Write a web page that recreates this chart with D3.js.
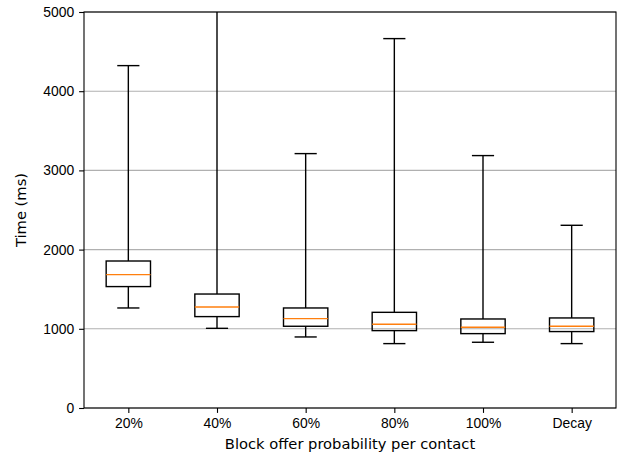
<!DOCTYPE html>
<html>
<head>
<meta charset="utf-8">
<script src="https://cdn.jsdelivr.net/npm/d3@7"></script>
<style>
	body { margin: 0; background: #fff; }
	svg { display: block; font-family: "DejaVu Sans", sans-serif; }
	.tick text { font-size: 13.9px; fill: #000; }
	.label { font-size: 14.7px; fill: #000; }
</style>
</head>
<body>
<svg id="chart" width="620" height="455"></svg>
<script>
// values (ms)
const categories = ['20%', '40%', '60%', '80%', '100%', 'Decay'];
const whiskerLow = [1263, 1006, 897, 813, 830, 813];
const q1 = [1533, 1154, 1032, 977, 939, 965];
const medians = [1684, 1275, 1129, 1057, 1019, 1032];
const q3 = [1856, 1439, 1263, 1208, 1124, 1137];
const whiskerHigh = [4323, 6200, 3212, 4664, 3187, 2307];
const yTicks = [0, 1000, 2000, 3000, 4000, 5000];

const margin = { top: 12, right: 4, bottom: 47, left: 84 };
const width = 620 - margin.left - margin.right;
const height = 455 - margin.top - margin.bottom;

const boxes = categories.map((c, i) => ({
	cat: c, pos: i + 1,
	lo: whiskerLow[i], q1: q1[i], med: medians[i], q3: q3[i], hi: whiskerHigh[i]
}));

const svg = d3.select('#chart');
const g = svg.append('g').attr('transform', `translate(${margin.left},${margin.top})`);

const x = d3.scaleLinear().domain([0.5, 6.5]).range([0, width]);
const y = d3.scaleLinear().domain([0, 5000]).range([height, 0]);

const boxW = x(1.25) - x(1);   // half width of box
const capW = boxW / 2;

// grid
g.append('g')
	.selectAll('line')
	.data(yTicks)
	.enter()
	.append('line')
		.attr('x1', 0).attr('x2', width)
		.attr('y1', d => y(d)).attr('y2', d => y(d))
		.attr('stroke', '#b0b0b0')
		.attr('stroke-width', 1.1);

svg.append('clipPath').attr('id', 'plot-clip')
	.append('rect').attr('width', width).attr('height', height);

const marks = g.append('g').attr('clip-path', 'url(#plot-clip)');
const bg = marks.selectAll('g.box').data(boxes).enter().append('g').classed('box', true);

const stroke = '#000';
const sw = 1.4;

// whiskers
bg.append('line')
	.attr('x1', d => x(d.pos)).attr('x2', d => x(d.pos))
	.attr('y1', d => y(d.q3)).attr('y2', d => y(d.hi))
	.attr('stroke', stroke).attr('stroke-width', sw);
bg.append('line')
	.attr('x1', d => x(d.pos)).attr('x2', d => x(d.pos))
	.attr('y1', d => y(d.q1)).attr('y2', d => y(d.lo))
	.attr('stroke', stroke).attr('stroke-width', sw);
// caps
bg.append('line')
	.attr('x1', d => x(d.pos) - capW).attr('x2', d => x(d.pos) + capW)
	.attr('y1', d => y(d.hi)).attr('y2', d => y(d.hi))
	.attr('stroke', stroke).attr('stroke-width', sw);
bg.append('line')
	.attr('x1', d => x(d.pos) - capW).attr('x2', d => x(d.pos) + capW)
	.attr('y1', d => y(d.lo)).attr('y2', d => y(d.lo))
	.attr('stroke', stroke).attr('stroke-width', sw);
// box
bg.append('rect')
	.attr('x', d => x(d.pos) - boxW)
	.attr('width', 2 * boxW)
	.attr('y', d => y(d.q3))
	.attr('height', d => y(d.q1) - y(d.q3))
	.attr('fill', 'none')
	.attr('stroke', stroke).attr('stroke-width', sw);
// median
bg.append('line')
	.attr('x1', d => x(d.pos) - boxW).attr('x2', d => x(d.pos) + boxW)
	.attr('y1', d => y(d.med)).attr('y2', d => y(d.med))
	.attr('stroke', '#ff7f0e').attr('stroke-width', sw);

// axes
const xAxis = g.append('g')
	.attr('transform', `translate(0,${height})`)
	.call(d3.axisBottom(x).tickValues(boxes.map(d => d.pos))
		.tickFormat((d, i) => categories[i]).tickSize(4.9).tickPadding(4.9));
const yAxis = g.append('g')
	.call(d3.axisLeft(y).tickValues(yTicks).tickFormat(d3.format('d'))
		.tickSize(4.9).tickPadding(4.9));

[xAxis, yAxis].forEach(a => {
	a.select('.domain').remove();
	a.selectAll('.tick line').attr('stroke', '#000').attr('stroke-width', 1.1);
});

// frame
g.append('rect')
	.attr('width', width).attr('height', height)
	.attr('fill', 'none').attr('stroke', '#000').attr('stroke-width', 1.1);

// labels
svg.append('text')
	.classed('label', true)
	.attr('x', margin.left + width / 2)
	.attr('y', 449)
	.attr('text-anchor', 'middle')
	.text('Block offer probability per contact');

svg.append('text')
	.classed('label', true)
	.attr('transform', `translate(25.5,${margin.top + height / 2}) rotate(-90)`)
	.attr('text-anchor', 'middle')
	.text('Time (ms)');
</script>
</body>
</html>
